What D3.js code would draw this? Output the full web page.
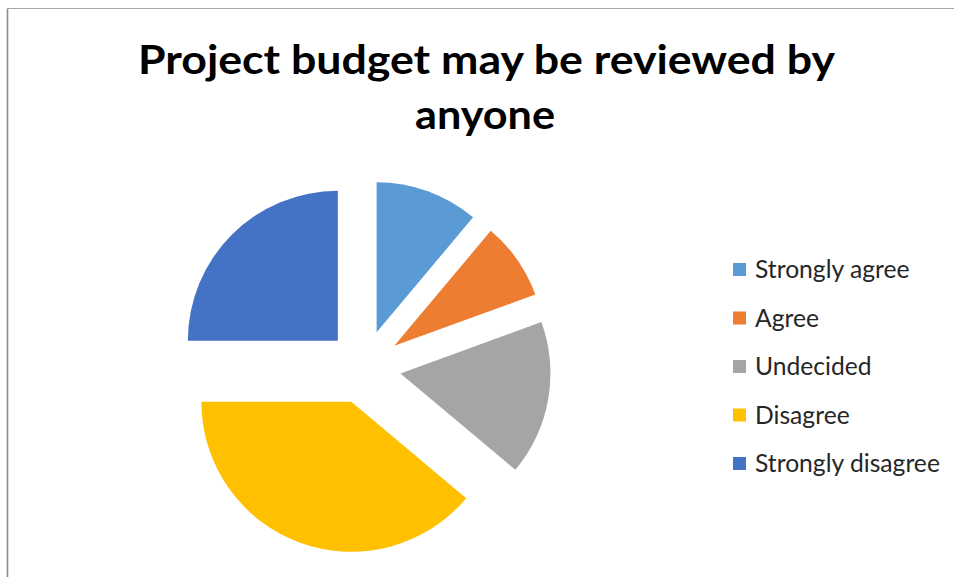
<!DOCTYPE html>
<html>
<head>
<meta charset="utf-8">
<script src="https://cdn.jsdelivr.net/npm/d3@7"></script>
<style>
  html, body { margin: 0; padding: 0; background: #fff; }
  svg { display: block; }
</style>
</head>
<body>
<svg id="chart" width="954" height="577"></svg>
<script>
// Survey responses: "Project budget may be reviewed by anyone"
const categories = ["Strongly agree", "Agree", "Undecided", "Disagree", "Strongly disagree"];
const counts = [4, 3, 6, 14, 9];
const colors = ["#5B9BD5", "#ED7D31", "#A5A5A5", "#FFC000", "#4472C4"];
const titleLines = ["Project budget may be reviewed by", "anyone"];

const svg = d3.select("#chart");
const W = 954, H = 577;

// chart frame (top and left edges visible)
svg.append("line").attr("x1", 7.5).attr("y1", 8.5).attr("x2", W).attr("y2", 8.5)
  .attr("stroke", "#a6a6a6").attr("stroke-width", 1.2);
svg.append("line").attr("x1", 7.5).attr("y1", 8.5).attr("x2", 7.5).attr("y2", H)
  .attr("stroke", "#8c8c8c").attr("stroke-width", 1.6);

// title
const titleFont = "Lato, 'Open Sans', sans-serif";
const title = svg.append("g");
title.append("text")
  .attr("x", 486.5).attr("y", 74)
  .attr("text-anchor", "middle")
  .attr("font-family", titleFont).attr("font-weight", 700)
  .attr("font-size", 41).attr("fill", "#000")
  .attr("textLength", 697).attr("lengthAdjust", "spacingAndGlyphs")
  .text(titleLines[0]);
title.append("text")
  .attr("x", 485).attr("y", 129)
  .attr("text-anchor", "middle")
  .attr("font-family", titleFont).attr("font-weight", 700)
  .attr("font-size", 41).attr("fill", "#000")
  .attr("textLength", 140).attr("lengthAdjust", "spacingAndGlyphs")
  .text(titleLines[1]);

// exploded pie
const cx = 364, cy = 367, radius = 150, explode = 37;
const pie = d3.pie().sort(null).value(d => d).startAngle(0).endAngle(2 * Math.PI);
const arc = d3.arc().innerRadius(0).outerRadius(radius);
const slices = pie(counts);

svg.append("g")
  .attr("transform", `translate(${cx},${cy})`)
  .selectAll("path")
  .data(slices)
  .join("path")
  .attr("d", arc)
  .attr("fill", (d, i) => colors[i])
  .attr("transform", d => {
    const mid = (d.startAngle + d.endAngle) / 2;
    return `translate(${explode * Math.sin(mid)},${-explode * Math.cos(mid)})`;
  });

// legend
const legendY = d3.scalePoint().domain(categories).range([270, 464]);
const legend = svg.append("g");
const items = legend.selectAll("g").data(categories).join("g")
  .attr("transform", d => `translate(733,${legendY(d)})`);
items.append("rect")
  .attr("x", 0).attr("y", -7).attr("width", 13).attr("height", 13)
  .attr("fill", (d, i) => colors[i]);
items.append("text")
  .attr("x", 22).attr("y", 8)
  .attr("font-family", "Lato, 'Open Sans', sans-serif")
  .attr("font-size", 22).attr("fill", "#262626")
  .text(d => d);
// fit label widths to the longest entry
const longest = items.selectAll("text").nodes()
  .reduce((m, n) => Math.max(m, n.getComputedTextLength()), 0);
const scale = 185 / longest;
items.selectAll("text").attr("font-size", 22 * scale);
</script>
</body>
</html>
